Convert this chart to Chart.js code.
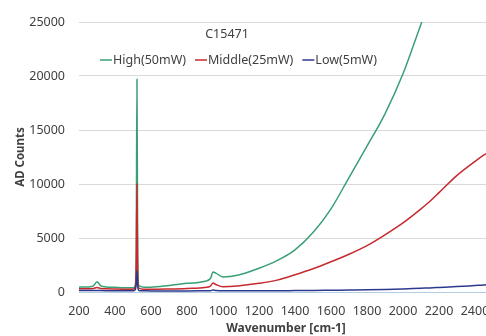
<!DOCTYPE html>
<html>
<head>
<meta charset="utf-8">
<script src="https://cdn.jsdelivr.net/npm/chart.js@4/dist/chart.umd.min.js"></script>
<style>
  html, body { margin: 0; padding: 0; background: #fff; overflow: hidden; }
  #chart { display: block; }
</style>
</head>
<body>
<canvas id="chart" width="510" height="336"></canvas>
<script>
// Raman spectra, C15471 at three laser powers

const CHART_TITLE = 'C15471';
const SERIES_LABELS = ['High(50mW)', 'Middle(25mW)', 'Low(5mW)'];
const SERIES_COLORS = ['#3a9f74', '#c62a2f', '#2c3a8e'];

const WAVENUMBERS = [
  200, 250, 280, 300, 320, 350, 400, 450, 500, 512, 518, 522, 526, 532, 560,
  600, 700, 800, 900, 930, 945, 960, 1000, 1080, 1200, 1300, 1400, 1500, 1600,
  1700, 1800, 1900, 2000, 2100, 2150, 2200, 2300, 2400, 2450, 2500,
];

const HIGH = [
  450, 470, 560, 950, 600, 470, 430, 400, 400, 550, 4000, 19700, 3500, 600, 450,
  450, 600, 800, 1000, 1250, 1850, 1750, 1400, 1550, 2200, 2900, 3900, 5500, 7700,
  10600, 13500, 16500, 20200, 24800, 27000, null, null, null, null, null,
];

const MIDDLE = [
  300, 300, 330, 420, 330, 290, 270, 260, 260, 400, 2500, 10000, 2000, 350, 260,
  250, 280, 330, 420, 550, 830, 700, 480, 550, 800, 1100, 1600, 2150, 2800,
  3500, 4300, 5300, 6400, 7700, 8400, 9200, 10800, 12100, 12700, 13100,
];

const LOW = [
  130, 130, 130, 150, 130, 120, 120, 110, 110, 200, 800, 2000, 600, 130, 110,
  100, 100, 100, 110, 120, 180, 150, 110, 110, 120, 120, 130, 140, 160,
  180, 200, 230, 280, 350, 380, 420, 500, 600, 650, 680,
];

const X_MIN = 200, X_MAX = 2500, X_STEP = 200;
const Y_MIN = 0, Y_MAX = 25000, Y_STEP = 5000;

const FONT = '"Noto Sans", "Open Sans", sans-serif';
const TEXT_COLOR = '#404040';

function toPoints(values) {
  return WAVENUMBERS.map((x, i) => ({ x, y: values[i] }));
}

// title + legend sit inside the plot, like the Excel original
const overlayLegend = {
  id: 'overlayLegend',
  afterDraw(chart) {
    const ctx = chart.ctx;
    ctx.save();
    ctx.font = '12.5px ' + FONT;
    ctx.fillStyle = TEXT_COLOR;
    ctx.textBaseline = 'middle';
    ctx.textAlign = 'center';
    ctx.fillText(CHART_TITLE, 227, 34);

    ctx.textAlign = 'left';
    let x = 100;
    const y = 60;
    chart.data.datasets.forEach((ds) => {
      ctx.strokeStyle = ds.borderColor;
      ctx.lineWidth = 1.5;
      ctx.beginPath();
      ctx.moveTo(x, y);
      ctx.lineTo(x + 12, y);
      ctx.stroke();
      x += 13;
      ctx.fillStyle = TEXT_COLOR;
      ctx.fillText(ds.label, x, y);
      x += ctx.measureText(ds.label).width + 9;
    });
    ctx.restore();
  },
};

const datasets = [HIGH, MIDDLE, LOW].map((vals, i) => ({
  label: SERIES_LABELS[i],
  data: toPoints(vals),
  borderColor: SERIES_COLORS[i],
  backgroundColor: SERIES_COLORS[i],
  borderWidth: 1.5,
  pointRadius: 0,
  cubicInterpolationMode: 'monotone',
  spanGaps: false,
  order: 3 - i,
}));

const plain = (v) => String(v);

new Chart(document.getElementById('chart'), {
  type: 'line',
  data: { datasets },
  options: {
    responsive: false,
    animation: false,
    layout: { padding: { top: 22, right: 17, left: 0, bottom: 0 } },
    plugins: {
      legend: { display: false },
      title: { display: false },
      tooltip: { enabled: false },
    },
    scales: {
      x: {
        type: 'linear',
        min: X_MIN,
        max: X_MAX,
        grid: { display: false, drawTicks: false },
        border: { display: true, color: '#b4cde0', width: 1 },
        ticks: {
          stepSize: X_STEP,
          includeBounds: false,
          maxRotation: 0,
          autoSkip: false,
          padding: 12,
          color: TEXT_COLOR,
          font: { family: FONT, size: 12.5 },
          callback: plain,
        },
        title: {
          display: true,
          text: 'Wavenumber [cm-1]',
          color: TEXT_COLOR,
          font: { family: FONT, size: 12, weight: 'bold' },
          padding: { top: 0, bottom: 0 },
        },
        afterFit(scale) { scale.height = 44; },
      },
      y: {
        min: Y_MIN,
        max: Y_MAX,
        grid: { color: '#d9d9d9', lineWidth: 1, drawTicks: false },
        border: { display: false },
        ticks: {
          stepSize: Y_STEP,
          padding: 14,
          color: TEXT_COLOR,
          font: { family: FONT, size: 12.5 },
          callback: plain,
        },
        title: {
          display: true,
          text: 'AD Counts',
          color: TEXT_COLOR,
          font: { family: FONT, size: 11.5, weight: 'bold' },
          padding: { top: 14, bottom: 0 },
        },
        afterFit(scale) { scale.width = 79; },
      },
    },
  },
  plugins: [overlayLegend],
});
</script>
</body>
</html>
